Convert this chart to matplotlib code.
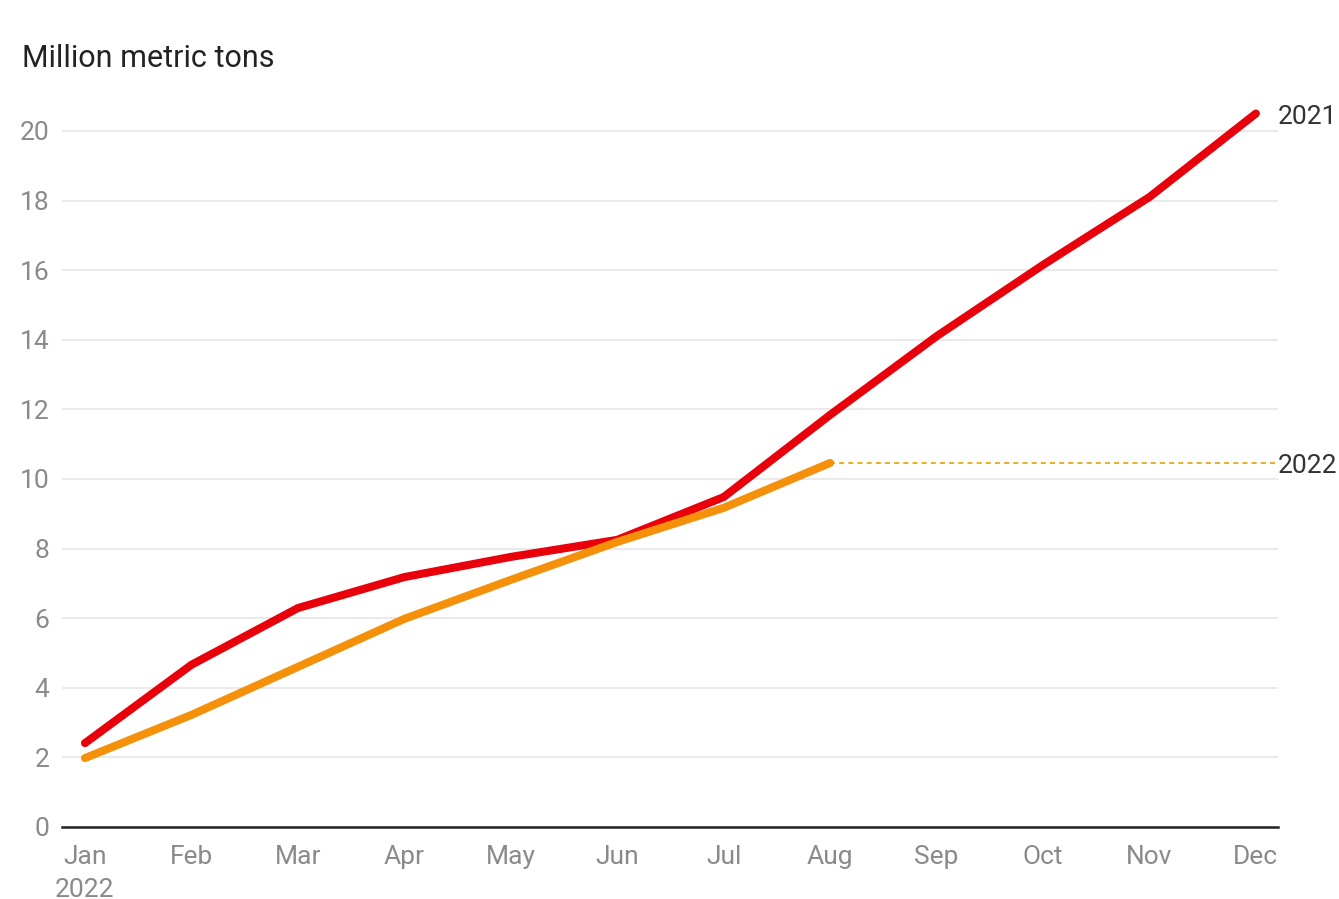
import matplotlib.pyplot as plt

# cumulative volumes, million metric tons
months = ["Jan", "Feb", "Mar", "Apr", "May", "Jun",
          "Jul", "Aug", "Sep", "Oct", "Nov", "Dec"]
tick_labels = ["Jan\n2022"] + months[1:]
vals_2021 = [2.41, 4.66, 6.29, 7.18, 7.76, 8.25, 9.48, 11.84, 14.1, 16.15, 18.1, 20.5]
vals_2022 = [1.98, 3.22, 4.6, 5.98, 7.1, 8.19, 9.17, 10.46]
y_ticks = [0, 2, 4, 6, 8, 10, 12, 14, 16, 18, 20]

plt.rcParams['font.family'] = ['Roboto', 'DejaVu Sans']

red = "#e8000b"
orange = "#f5900a"

fig = plt.figure(figsize=(13.39, 8.99), dpi=100)
ax = fig.add_axes([0.0463, 0.0801, 0.9081, 0.813])

x21 = list(range(len(vals_2021)))
x22 = list(range(len(vals_2022)))

ax.plot(x21, vals_2021, color=red, lw=5.8, solid_capstyle="round",
        solid_joinstyle="round", zorder=3)
ax.plot(x22, vals_2022, color=orange, lw=5.8, solid_capstyle="round",
        solid_joinstyle="round", zorder=4)

# dotted guide carrying the latest 2022 value to the right edge
ax.plot([x22[-1], x21[-1] + 0.2], [vals_2022[-1], vals_2022[-1]],
        color="#e8a000", lw=1.2, ls=(0, (3, 2.5)), zorder=2, clip_on=False)

ax.set_xlim(-0.216, 11.207)
ax.set_ylim(0, 21)

ax.set_yticks(y_ticks)
ax.set_yticklabels([str(v) for v in y_ticks])
ax.set_xticks(x21)
ax.set_xticklabels(tick_labels, linespacing=1.45)

ax.grid(axis="y", color="#e6e6e6", lw=1.2)
ax.set_axisbelow(True)
for side in ["top", "right", "left"]:
    ax.spines[side].set_visible(False)
ax.spines["bottom"].set_color("#222222")
ax.spines["bottom"].set_linewidth(1.8)
ax.spines["bottom"].set_zorder(5)

ax.tick_params(axis="both", length=0, labelsize=19, labelcolor="#8a8a8a")
ax.tick_params(axis="y", pad=9)
ax.tick_params(axis="x", pad=13)
for lbl in ax.get_yticklabels():
    lbl.set_horizontalalignment("right")

# series labels at the right end
ax.text(11.207, vals_2021[-1] - 0.1, "2021", fontsize=19, color="#333333",
        va="center", ha="left", clip_on=False)
ax.text(11.207, vals_2022[-1] - 0.1, "2022", fontsize=19, color="#333333",
        va="center", ha="left", clip_on=False)

fig.text(0.0164, 0.935, "Million metric tons", fontsize=22, color="#222222",
         va="center", ha="left")

fig.savefig("out.png", dpi=100, facecolor="white")
